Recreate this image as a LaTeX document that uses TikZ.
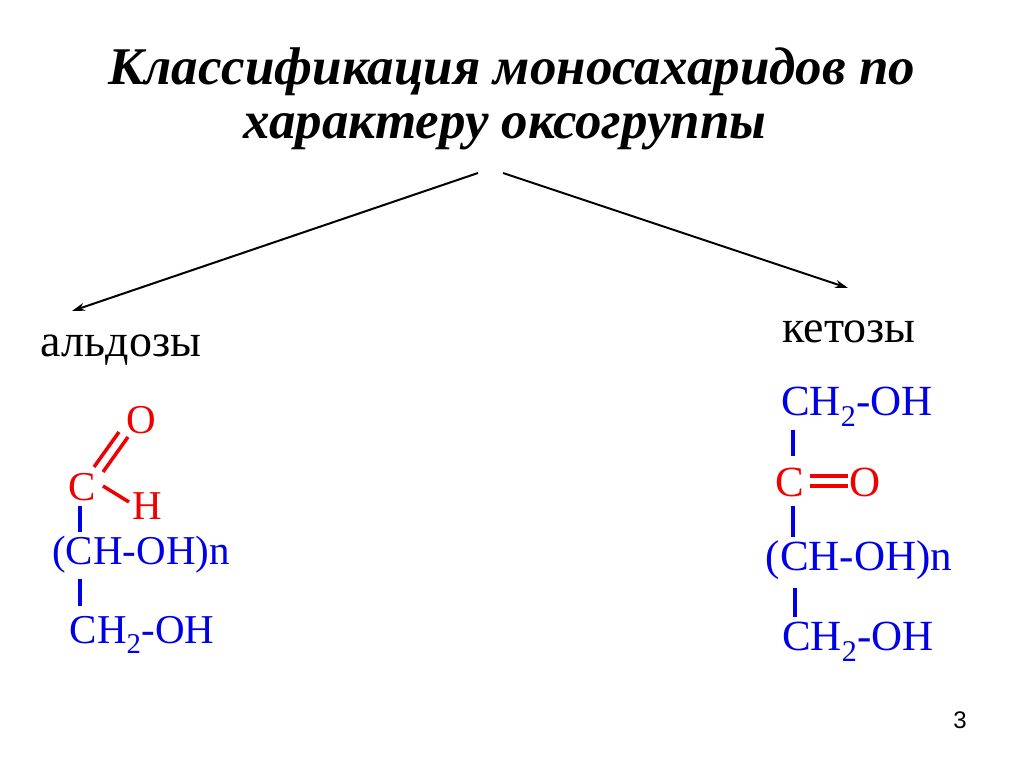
\documentclass[tikz,border=0pt]{standalone}
\usepackage{fontspec}
\setmainfont{Liberation Serif}
\newfontfamily\sansf{Liberation Sans}
\usetikzlibrary{arrows.meta}
\definecolor{blu}{RGB}{0,0,230}
\definecolor{rd}{RGB}{240,0,0}
\begin{document}
\begin{tikzpicture}[x=1pt,y=-1pt,
  every node/.style={inner sep=0pt},
  formA/.style={font=\fontsize{41}{41}\selectfont,text=blu},
  formB/.style={font=\fontsize{43}{43}\selectfont,text=blu},
  bondb/.style={draw=blu,line width=3.5pt},
  bondr/.style={draw=rd,line width=3.5pt},
  arr/.style={line width=2pt,-{Stealth[length=13pt,width=8pt]}}]
\useasboundingbox (0,0) rectangle (1024,767);
\node (t1) at (512,72) {\fontsize{53}{53}\selectfont\bfseries\itshape Классификация моносахаридов по};
\node (t2) at (505,132) {\fontsize{53}{53}\selectfont\bfseries\itshape характеру оксогруппы};
\coordinate (s1) at (478,173);
\coordinate (s2) at (503,173);
\node (ald) at (121,350) {\fontsize{46}{46}\selectfont альдозы};
\node (ket) at (849,332) {\fontsize{46}{46}\selectfont кетозы};
\coordinate (e1) at (72,311);
\coordinate (e2) at (848,288);
\draw[arr] (s1) -- (e1);
\draw[arr] (s2) -- (e2);
% aldose
\node[formA,text=rd] (aO) at (141,420) {O};
\node[formA,text=rd] (aC) at (82,487) {C};
\node[formA,text=rd] (aH) at (147,506) {H};
\node[formA] (aCH) at (141,555) {(CH-OH)n};
\node[formA] (aCH2) at (142,635) {CH\textsubscript{2}-OH};
\draw[bondr] (94,467) -- (119,432);
\draw[bondr] (103,472) -- (128,437);
\draw[bondr] (103,486) -- (129,502);
\draw[bondb] (80,506) -- (80,532);
\draw[bondb] (80,579) -- (80,606);
% ketose
\node[formB] (kCH2a) at (857,407) {CH\textsubscript{2}-OH};
\node[formB,text=rd] (kC) at (790,482) {C};
\node[formB,text=rd] (kO) at (865,482) {O};
\node[formB] (kCH) at (859,560) {(CH-OH)n};
\node[formB] (kCH2b) at (858,642) {CH\textsubscript{2}-OH};
\draw[bondr] (810,476) -- (848,476);
\draw[bondr] (810,486) -- (848,486);
\draw[bondb] (793,430) -- (793,456);
\draw[bondb] (793,506) -- (793,537);
\draw[bondb] (795,588) -- (795,617);
\node (pg) at (960,720) {\sansf\fontsize{24}{24}\selectfont 3};
\end{tikzpicture}
\end{document}
